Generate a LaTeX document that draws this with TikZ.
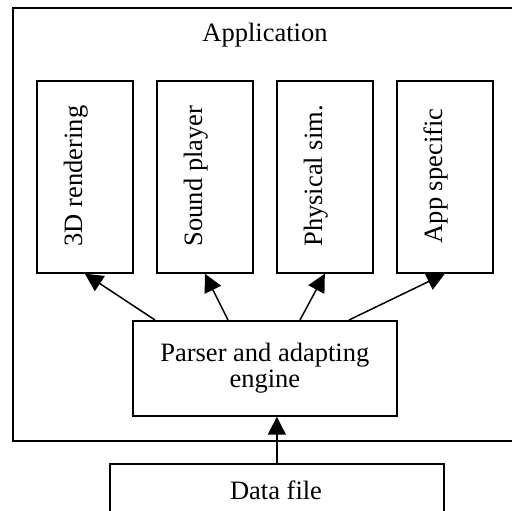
\documentclass[tikz,border=0pt]{standalone}
\usepackage{fontspec}
\setmainfont{Liberation Serif}
\usetikzlibrary{arrows.meta}
\begin{document}
\begin{tikzpicture}[x=1pt,y=-1pt,
  box/.style={draw=black, line width=1.7pt, inner sep=0pt, anchor=north west},
  modbox/.style={box, minimum width=96pt, minimum height=192pt},
  lbl/.style={font=\fontsize{26.5}{26}\selectfont, inner sep=0pt},
  vlbl/.style={lbl, rotate=90, anchor=base},
  arr/.style={line width=1.5pt, -{Triangle[length=18pt,width=18pt]}}]
\useasboundingbox (0,0) rectangle (512,511);

% application frame
\node[box, minimum width=520pt, minimum height=432.5pt] (app) at (12,7.5) {};
\node[lbl, anchor=base] (apptitle) at (265,42) {Application};

% modules
\node[modbox] (r3d)   at (36,80)  {};
\node[modbox] (sound) at (156,80) {};
\node[modbox] (phys)  at (276,80) {};
\node[modbox] (spec)  at (396,80) {};
\node[vlbl] (r3dtext)   at (82,176)  {3D rendering};
\node[vlbl] (soundtext) at (202,176) {Sound player};
\node[vlbl] (phystext)  at (322,176) {Physical sim.};
\node[vlbl] (spectext)  at (442,176) {App specific};

% parser
\node[box, minimum width=264pt, minimum height=95pt] (parser) at (132,320) {};
\node[lbl, align=center] (parsertext) at (parser.center) {Parser and adapting\\engine};

% data file
\node[box, minimum width=334pt, minimum height=75pt] (data) at (109,463) {};
\node[lbl, anchor=base] (datatext) at (276,499) {Data file};

% connectors
\coordinate (s1) at (155,320);
\coordinate (s2) at (228,320);
\coordinate (s3) at (300,320);
\coordinate (s4) at (349,320);
\draw[arr] (s1) -- (r3d.south);
\draw[arr] (s2) -- (sound.south);
\draw[arr] (s3) -- (phys.south);
\draw[arr] (s4) -- (spec.south);
\draw[arr] (data.north) -- (data.north |- parser.south);
\end{tikzpicture}
\end{document}
